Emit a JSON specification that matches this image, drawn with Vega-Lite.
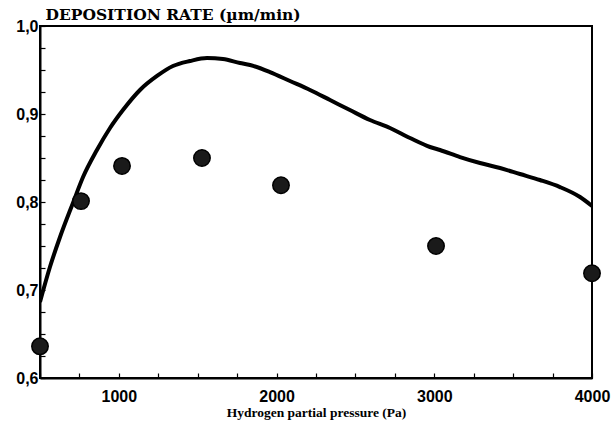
{
  "$schema": "https://vega.github.io/schema/vega-lite/v6.json",
  "width": 552,
  "height": 352,
  "autosize": {"type": "none"},
  "padding": {"left": 40, "top": 26, "right": 21, "bottom": 52},
  "background": "white",
  "config": {
    "view": {"stroke": "black", "strokeWidth": 2},
    "axis": {"grid": false, "domainColor": "black", "domainWidth": 2, "tickColor": "black", "tickWidth": 1.2, "labelColor": "black", "titleColor": "black"}
  },
  "datasets": {
    "curve": [
      {"p": 500, "r": 0.6864},
      {"p": 563, "r": 0.7261},
      {"p": 627, "r": 0.7602},
      {"p": 709, "r": 0.7989},
      {"p": 773, "r": 0.8284},
      {"p": 861, "r": 0.8591},
      {"p": 944, "r": 0.8841},
      {"p": 1026, "r": 0.9045},
      {"p": 1134, "r": 0.9273},
      {"p": 1242, "r": 0.9432},
      {"p": 1343, "r": 0.9545},
      {"p": 1451, "r": 0.9602},
      {"p": 1559, "r": 0.9636},
      {"p": 1660, "r": 0.9625},
      {"p": 1768, "r": 0.958},
      {"p": 1832, "r": 0.9557},
      {"p": 1958, "r": 0.9477},
      {"p": 2085, "r": 0.9375},
      {"p": 2212, "r": 0.9273},
      {"p": 2339, "r": 0.9159},
      {"p": 2465, "r": 0.9045},
      {"p": 2592, "r": 0.8932},
      {"p": 2719, "r": 0.8841},
      {"p": 2846, "r": 0.8727},
      {"p": 2973, "r": 0.8625},
      {"p": 3036, "r": 0.8591},
      {"p": 3163, "r": 0.8511},
      {"p": 3290, "r": 0.8443},
      {"p": 3417, "r": 0.8386},
      {"p": 3543, "r": 0.8318},
      {"p": 3670, "r": 0.825},
      {"p": 3797, "r": 0.817},
      {"p": 3924, "r": 0.8057},
      {"p": 4000, "r": 0.7955}
    ],
    "points": [
      {"p": 500, "r": 0.636},
      {"p": 760, "r": 0.801},
      {"p": 1020, "r": 0.841},
      {"p": 1527, "r": 0.85},
      {"p": 2028, "r": 0.819},
      {"p": 3011, "r": 0.75},
      {"p": 4000, "r": 0.719}
    ]
  },
  "encoding": {
    "x": {
      "field": "p", "type": "quantitative",
      "scale": {"domain": [500, 4000], "nice": false, "zero": false},
      "axis": {
        "values": [500, 750, 1000, 1250, 1500, 1750, 2000, 2250, 2500, 2750, 3000, 3250, 3500, 3750, 4000],
        "labelExpr": "datum.value % 1000 == 0 ? format(datum.value, 'd') : ''",
        "tickSize": -5,
        "labelPadding": 15,
        "labelFont": "Liberation Sans", "labelFontWeight": "bold", "labelFontSize": 16,
        "labelFlush": false,
        "title": "Hydrogen partial pressure (Pa)",
        "titleFont": "Liberation Serif", "titleFontWeight": "bold", "titleFontSize": 13.5,
        "titleBaseline": "alphabetic", "titleY": 38
      }
    },
    "y": {
      "field": "r", "type": "quantitative",
      "scale": {"domain": [0.6, 1.0], "nice": false, "zero": false},
      "axis": {
        "values": [0.6, 0.625, 0.65, 0.675, 0.7, 0.725, 0.75, 0.775, 0.8, 0.825, 0.85, 0.875, 0.9, 0.925, 0.95, 0.975, 1.0],
        "labelExpr": "abs(datum.value * 10 - round(datum.value * 10)) < 0.001 ? replace(format(datum.value, '.1f'), '.', ',') : ''",
        "tickSize": -5,
        "labelPadding": 7,
        "labelFont": "Liberation Sans", "labelFontWeight": "bold", "labelFontSize": 16,
        "labelFlush": false,
        "title": "DEPOSITION RATE (µm/min)",
        "titleAngle": 0, "titleAlign": "left", "titleBaseline": "alphabetic",
        "titleX": 5, "titleY": -7,
        "titleFont": "DejaVu Serif", "titleFontWeight": "bold", "titleFontSize": 15.5
      }
    }
  },
  "layer": [
    {
      "data": {"name": "curve"},
      "mark": {"type": "line", "color": "black", "strokeWidth": 4, "interpolate": "monotone", "clip": true}
    },
    {
      "data": {"name": "points"},
      "mark": {"type": "point", "shape": "circle", "filled": true, "fill": "#1a1a1a", "stroke": "black", "strokeWidth": 1.5, "size": 270, "opacity": 1}
    }
  ]
}
